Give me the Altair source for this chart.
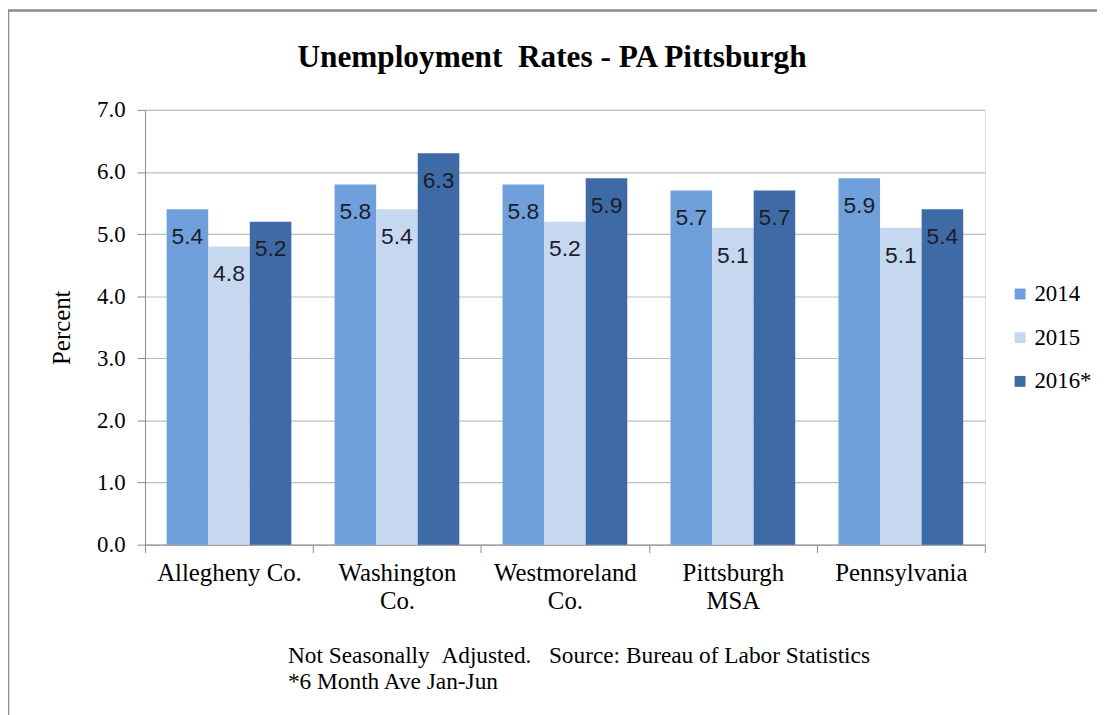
import altair as alt
import pandas as pd

categories = ["Allegheny Co.", "Washington Co.", "Westmoreland Co.", "Pittsburgh MSA", "Pennsylvania"]
years = ["2014", "2015", "2016*"]
rates_2014 = [5.4, 5.8, 5.8, 5.7, 5.9]
rates_2015 = [4.8, 5.4, 5.2, 5.1, 5.1]
rates_2016 = [5.2, 6.3, 5.9, 5.7, 5.4]
colors = ["#70A0DC", "#C6D8F0", "#3E6BA6"]
y_ticks = [0, 1, 2, 3, 4, 5, 6, 7]
title_text = "Unemployment\u00a0\u00a0Rates - PA Pittsburgh"
footnote = ["Not Seasonally\u00a0\u00a0Adjusted.\u00a0\u00a0\u00a0Source: Bureau of Labor Statistics",
            "*6 Month Ave Jan-Jun"]

rows = []
for yr, vals in zip(years, [rates_2014, rates_2015, rates_2016]):
    for c, v in zip(categories, vals):
        rows.append({"Area": c, "Year": yr, "Rate": v})
df = pd.DataFrame(rows)

SERIF = "Liberation Serif"
W, H = 846, 438

x_enc = alt.X("Area:N", sort=categories,
              scale=alt.Scale(paddingInner=0, paddingOuter=0),
              axis=alt.Axis(title=None, labelAngle=0, tickBand="extent", tickSize=8,
                            labelFont=SERIF, labelFontSize=25, labelColor="#000000",
                            labelPadding=8, labelLineHeight=28,
                            labelExpr="datum.label == 'Allegheny Co.' ? datum.label : split(datum.label, ' ')",
                            domainColor="#8c8c8c", tickColor="#8c8c8c", grid=False))
xo_enc = alt.XOffset("Year:N", sort=years, scale=alt.Scale(paddingInner=0, paddingOuter=0.52))
y_enc = alt.Y("Rate:Q", scale=alt.Scale(domain=[0, 7], nice=False),
              axis=alt.Axis(title="Percent", values=y_ticks, format=".1f", tickSize=8,
                            labelFont=SERIF, labelFontSize=23, labelColor="#000000", labelPadding=12,
                            titleFont=SERIF, titleFontSize=25, titleFontWeight="normal",
                            titleColor="#000000", titlePadding=22,
                            domainColor="#8c8c8c", tickColor="#8c8c8c",
                            gridColor="#bdbdbd", gridWidth=1.2))

base = alt.Chart(df)
bars = base.mark_bar().encode(
    x=x_enc, xOffset=xo_enc, y=y_enc,
    color=alt.Color("Year:N", sort=years, scale=alt.Scale(domain=years, range=colors),
                    legend=alt.Legend(title=None, orient="none", legendX=870, legendY=174,
                                      symbolType="square", symbolSize=121, symbolStrokeWidth=0,
                                      labelFont=SERIF, labelFontSize=23, labelColor="#000000",
                                      rowPadding=20, labelOffset=3)),
)
labels = base.mark_text(baseline="middle", dy=28, font="Liberation Sans", fontSize=23,
                        color="#1c1c2a").encode(
    x=alt.X("Area:N", sort=categories), xOffset=alt.XOffset("Year:N", sort=years),
    y="Rate:Q", text=alt.Text("Rate:Q", format=".1f"))

title = alt.Chart(alt.Data(values=[{"t": title_text}])).mark_text(
    align="center", baseline="alphabetic", font=SERIF, fontSize=31.5, fontWeight="bold",
    color="#000000").encode(x=alt.value(410), y=alt.value(-43), text="t:N")

notes = alt.Chart(alt.Data(values=[{"t": footnote}])).mark_text(
    align="left", baseline="alphabetic", font=SERIF, fontSize=23.5, color="#000000",
    lineHeight=26).encode(x=alt.value(144), y=alt.value(557), text="t:N")

frame = alt.Chart(alt.Data(values=[{}])).mark_rect(
    fillOpacity=0, stroke="#8c8c8c", strokeWidth=2.5).encode(
    x=alt.value(-138), x2=alt.value(1100), y=alt.value(-100), y2=alt.value(800))

chart = alt.layer(frame, bars, labels, title, notes).properties(
    width=W, height=H,
    autosize=alt.AutoSizeParams(type="none"),
    padding={"left": 138, "top": 100, "right": 113, "bottom": 169},
).configure_view(stroke=None).configure(background="white")

chart.save("out.html", embed_options={"renderer": "svg", "actions": False})
